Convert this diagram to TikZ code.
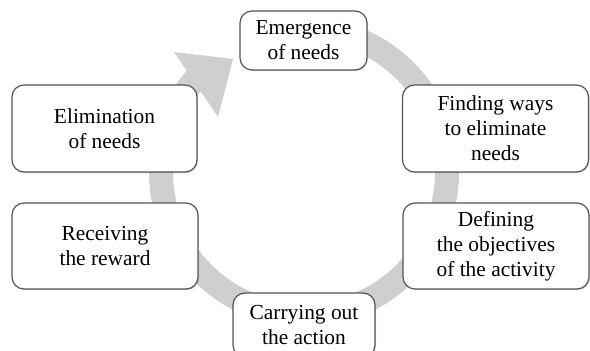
\documentclass[tikz,border=0pt]{standalone}
\usepackage{fontspec}
\setmainfont{Liberation Serif}
\usetikzlibrary{shadows}
\definecolor{ringgray}{RGB}{206,207,209}
\definecolor{boxline}{RGB}{85,85,85}
\tikzset{
  stage/.style={draw=boxline, line width=0.6pt, fill=white, rounded corners=6pt,
    align=center, inner sep=0pt, font=\fontsize{10.7}{12.5}\selectfont,
    drop shadow={shadow xshift=0.5pt, shadow yshift=-0.6pt, opacity=0.35, fill=black!45}},
}
\begin{document}
\begin{tikzpicture}[x=0.5pt, y=-0.5pt]
  \useasboundingbox (0,0) rectangle (590,351);
  \draw[ringgray, line width=12pt] (304,172) ++(-100:143) arc[start angle=-100, end angle=222, radius=143];
  \fill[ringgray] (174,52) -- (233,59) -- (218,117) -- cycle;
  \node[stage, minimum width=63.5pt, minimum height=29.5pt] (0) at (303.5,40.5) {Emergence\\of needs};
  \node[stage, minimum width=93pt, minimum height=43.5pt] (1) at (495.5,128.5) {Finding ways\\to eliminate\\needs};
  \node[stage, minimum width=93pt, minimum height=43pt] (2) at (496,246) {Defining\\the objectives\\of the activity};
  \node[stage, minimum width=71pt, minimum height=32pt] (3) at (304,325) {Carrying out\\the action};
  \node[stage, minimum width=93pt, minimum height=43pt] (4) at (105,246) {Receiving\\the reward};
  \node[stage, minimum width=92.5pt, minimum height=43.5pt] (5) at (104.5,128.5) {Elimination\\of needs};
\end{tikzpicture}
\end{document}
